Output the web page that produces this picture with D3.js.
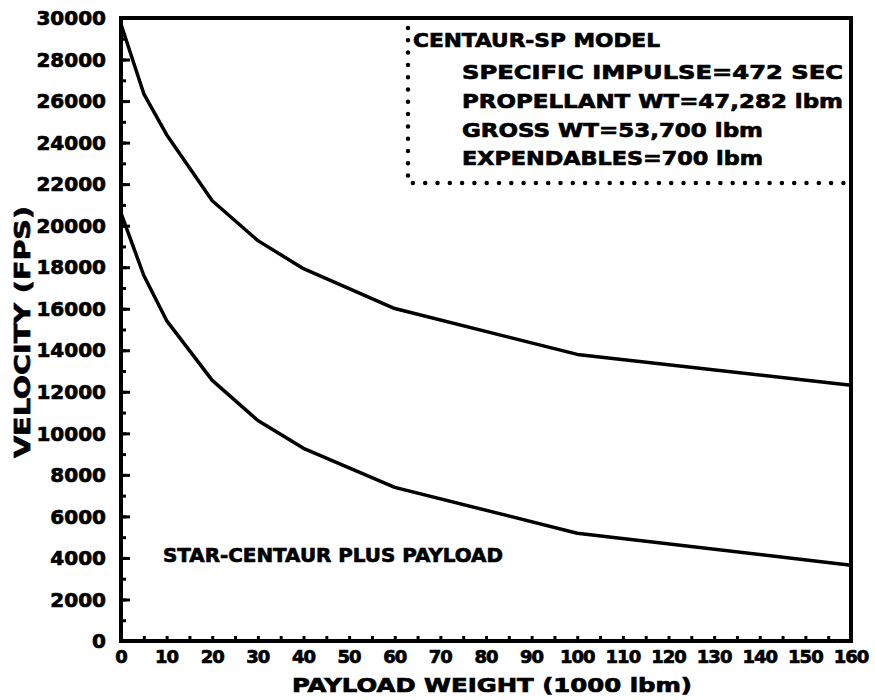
<!DOCTYPE html>
<html><head><meta charset="utf-8">
<script src="https://cdn.jsdelivr.net/npm/d3@7"></script>
<style>body{margin:0;background:#fff} text{stroke:#000;stroke-width:0.7px}</style>
</head><body>
<svg id="c" width="875" height="700"></svg>
<script>
// ---- data ----
const payload = [0, 5, 10, 20, 30, 40, 60, 100, 160];
const centaurSP = [29700, 26350, 24380, 21200, 19280, 17930, 16010, 13800, 12310];
const starCentaur = [20600, 17600, 15430, 12550, 10620, 9280, 7400, 5190, 3650];
const xTickValues = d3.range(0, 161, 10);
const xMinorTicks = d3.range(0, 161, 5);
const yTickValues = d3.range(0, 30001, 2000);
const yMinorTicks = d3.range(0, 30001, 1000);
const legendTitle = "CENTAUR-SP MODEL";
const legendLines = ["SPECIFIC IMPULSE=472 SEC", "PROPELLANT WT=47,282 lbm", "GROSS WT=53,700 lbm", "EXPENDABLES=700 lbm"];
const curveLabel = "STAR-CENTAUR PLUS PAYLOAD";
const xTitle = "PAYLOAD WEIGHT (1000 lbm)";
const yTitle = "VELOCITY (FPS)";

// ---- drawing ----
const svg = d3.select("#c");
const font = "'DejaVu Sans', sans-serif";
const x = d3.scaleLinear().domain([0, 160]).range([121, 851]);
const y = d3.scaleLinear().domain([0, 30000]).range([641, 18]);

// minor ticks
svg.append("g").attr("transform", `translate(${x(0)},0)`)
  .call(d3.axisLeft(y).tickValues(yMinorTicks).tickSize(-5).tickFormat(""))
  .call(g => g.select(".domain").remove())
  .call(g => g.selectAll("line").attr("stroke", "#000").attr("stroke-width", 3));
svg.append("g").attr("transform", `translate(${x(0)},0)`)
  .call(d3.axisLeft(y).tickValues(yTickValues).tickSize(-9).tickFormat(""))
  .call(g => g.select(".domain").remove())
  .call(g => g.selectAll("line").attr("stroke", "#000").attr("stroke-width", 3));
svg.append("g").attr("transform", `translate(0,${y(0)})`)
  .call(d3.axisBottom(x).tickValues(xMinorTicks).tickSize(-5).tickFormat(""))
  .call(g => g.select(".domain").remove())
  .call(g => g.selectAll("line").attr("stroke", "#000").attr("stroke-width", 3));

// y tick labels
svg.append("g").selectAll("text").data(yTickValues).join("text")
  .attr("x", 106).attr("y", d => y(d)).attr("dy", "0.36em")
  .attr("text-anchor", "end")
  .attr("font-family", font).attr("font-weight", "bold").attr("font-size", 20)
  .text(d => d);

// x tick labels
svg.append("g").selectAll("text").data(xTickValues).join("text")
  .attr("x", d => x(d)).attr("y", 663)
  .attr("text-anchor", "middle")
  .attr("font-family", font).attr("font-weight", "bold").attr("font-size", 18)
  .attr("letter-spacing", -1)
  .text(d => d);

// frame
svg.append("rect")
  .attr("x", x(0)).attr("y", y(30000))
  .attr("width", x(160) - x(0)).attr("height", y(0) - y(30000))
  .attr("fill", "none").attr("stroke", "#000").attr("stroke-width", 4);

// curves
const line = d3.line().x((d, i) => x(payload[i])).y(d => y(d));
[centaurSP, starCentaur].forEach(s => {
  svg.append("path").datum(s).attr("d", line)
    .attr("fill", "none").attr("stroke", "#000").attr("stroke-width", 3.5)
    .attr("stroke-linejoin", "round");
});

// legend box (dotted)
const lx = 408, lyBottom = 183;
svg.append("path")
  .attr("d", `M${lx},${y(30000) + 10}V${lyBottom}H${x(160) - 4}`)
  .attr("fill", "none").attr("stroke", "#000").attr("stroke-width", 4.5)
  .attr("stroke-linecap", "round").attr("stroke-dasharray", "0 12.3");

svg.append("text").attr("x", 413).attr("y", 47)
  .attr("font-family", font).attr("font-weight", "bold").attr("font-size", 20)
  .attr("textLength", 247).attr("lengthAdjust", "spacingAndGlyphs")
  .text(legendTitle);
const lineY = [79, 108, 137, 165];
const lineW = [381, 381, 301, 301];
legendLines.forEach((t, i) => {
  svg.append("text").attr("x", 462).attr("y", lineY[i])
    .attr("font-family", font).attr("font-weight", "bold").attr("font-size", 20)
    .attr("textLength", lineW[i]).attr("lengthAdjust", "spacingAndGlyphs")
    .text(t);
});

// curve label
svg.append("text").attr("x", 163).attr("y", 562)
  .attr("font-family", font).attr("font-weight", "bold").attr("font-size", 19)
  .attr("textLength", 340).attr("lengthAdjust", "spacingAndGlyphs")
  .text(curveLabel);

// axis titles
svg.append("text").attr("x", 292).attr("y", 692)
  .attr("font-family", font).attr("font-weight", "bold").attr("font-size", 19)
  .attr("textLength", 400).attr("lengthAdjust", "spacingAndGlyphs")
  .text(xTitle);
svg.append("text")
  .attr("transform", "translate(30,458) rotate(-90)")
  .attr("font-family", font).attr("font-weight", "bold").attr("font-size", 21)
  .attr("textLength", 252).attr("lengthAdjust", "spacingAndGlyphs")
  .text(yTitle);
</script>
</body></html>
